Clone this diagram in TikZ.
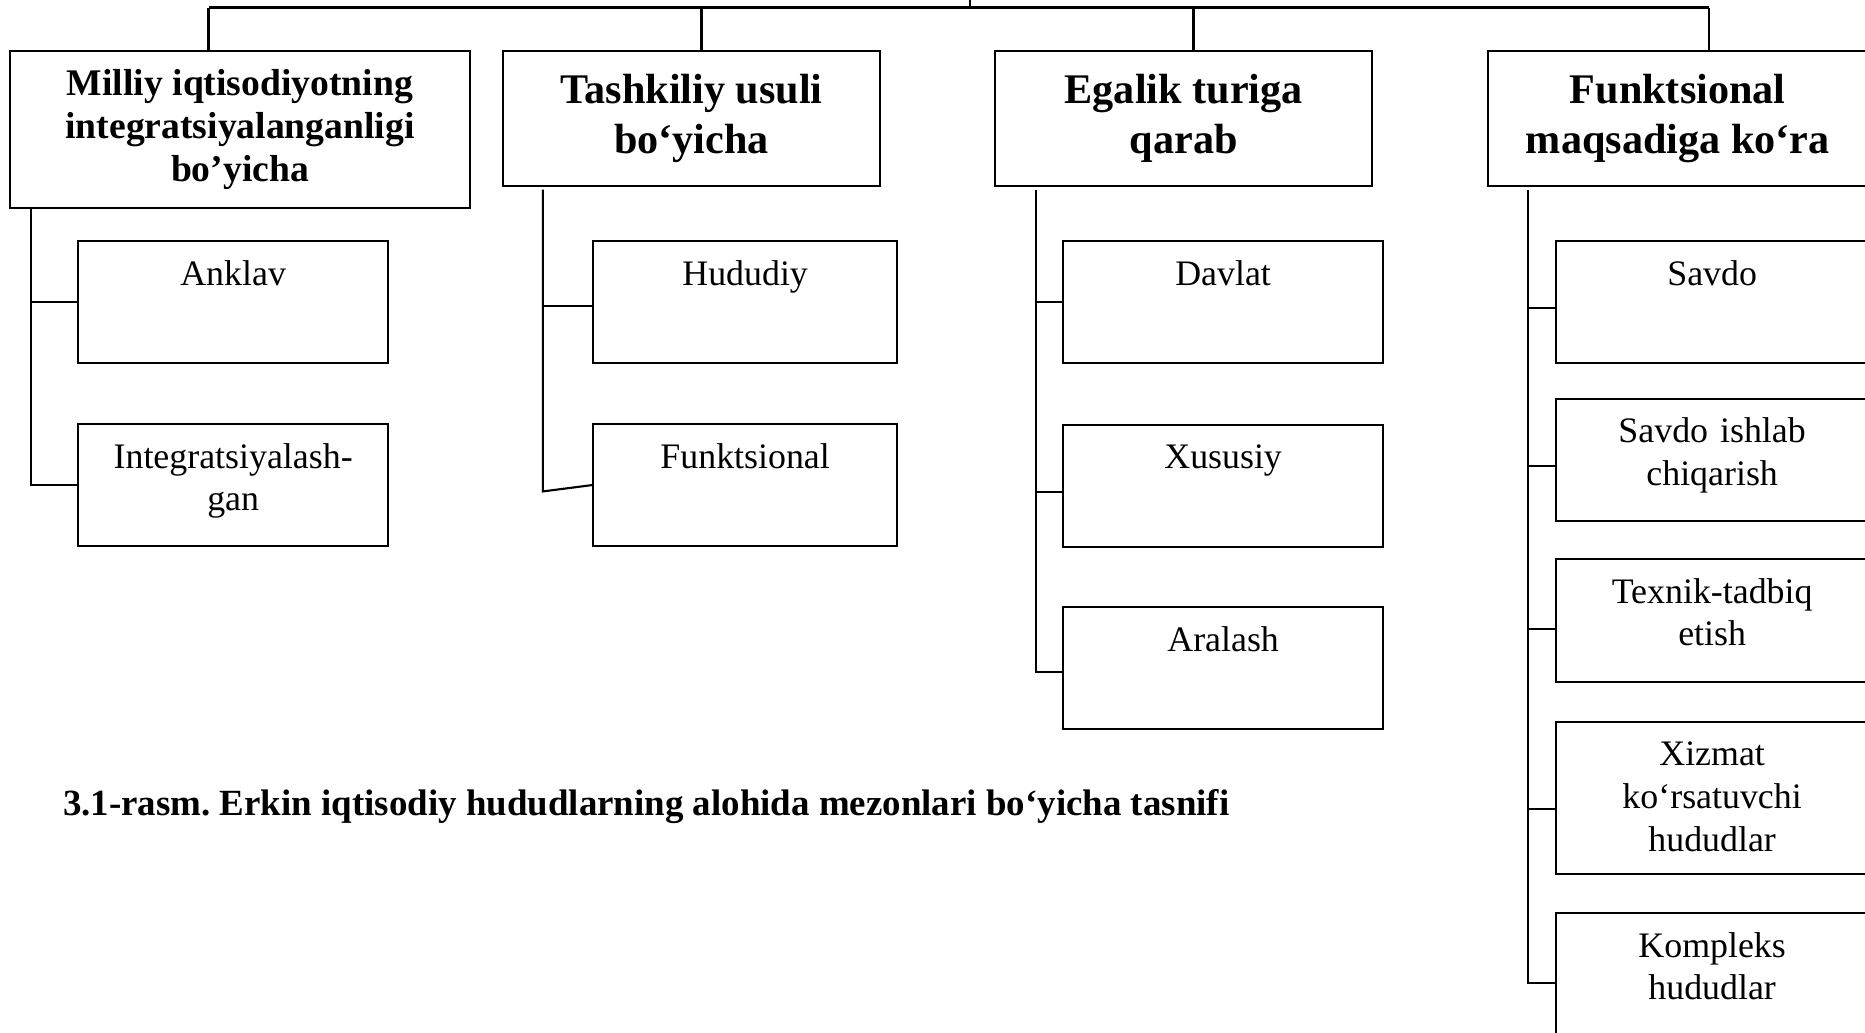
\documentclass[tikz,border=0pt]{standalone}
\usepackage{fontspec}
\setmainfont{Liberation Serif}
\frenchspacing
\begin{document}
\begin{tikzpicture}[x=0.01cm,y=-0.01cm,line width=0.6pt,
        head/.style={draw,align=center,inner sep=0pt,minimum height=1.347cm,
          font=\fontsize{12}{14.2}\selectfont\bfseries},
        leaf/.style={draw,inner sep=0pt,anchor=north west,minimum height=1.22cm},
        leaftext/.style={anchor=base,align=center,text width=3cm,inner sep=0pt,
          font=\fontsize{10.2}{12.2}\selectfont}]
        \useasboundingbox (0,0) rectangle (1865,1033);
        \clip (0,0) rectangle (1865,1033);

        \node[head,minimum width=4.6cm,minimum height=1.57cm,
          font=\fontsize{10.7}{12.3}\selectfont\bfseries] (milliy) at (240,129.5)
        {Milliy iqtisodiyotning\\integratsiyalanganligi\\bo’yicha};
        \node[head,minimum width=3.77cm] (tashkiliy) at (691.5,118.3) {Tashkiliy usuli\\bo‘yicha};
        \node[head,minimum width=3.77cm] (egalik) at (1183.7,118.3) {Egalik turiga\\qarab};
        \node[head,minimum width=3.8cm] (funksiya) at (1677.7,118.3) {Funktsional\\maqsadiga ko‘ra};

        \coordinate (root) at (970,0);
        \coordinate (t0) at (970,7.5);
        \coordinate (t1) at (208.5,7.5);
        \coordinate (t2) at (701.5,7.5);
        \coordinate (t3) at (1193.5,7.5);
        \coordinate (t4) at (1709,7.5);
        \draw (root) -- (t0);
        \draw (t1) -- (t4);
        \draw (t1) -- (t1 |- milliy.north);
        \draw (t2) -- (t2 |- tashkiliy.north);
        \draw (t3) -- (t3 |- egalik.north);
        \draw (t4) -- (t4 |- funksiya.north);

        \node[leaf,minimum width=3.1cm] (anklav) at (77,240) {};
        \node[leaf,minimum width=3.1cm] (integ) at (77,423) {};
        \node[leaftext] at ([yshift=-0.45cm]anklav.north) {Anklav};
        \node[leaftext] at ([yshift=-0.45cm]integ.north) {Integratsiyalash-\\gan};

        \node[leaf,minimum width=3.04cm] (hududiy) at (592,240) {};
        \node[leaf,minimum width=3.04cm] (funktsional) at (592,423) {};
        \node[leaftext] at ([yshift=-0.45cm]hududiy.north) {Hududiy};
        \node[leaftext] at ([yshift=-0.45cm]funktsional.north) {Funktsional};

        \node[leaf,minimum width=3.2cm] (davlat) at (1062,240) {};
        \node[leaf,minimum width=3.2cm] (xususiy) at (1062,423.6) {};
        \node[leaf,minimum width=3.2cm] (aralash) at (1062,606) {};
        \node[leaftext] at ([yshift=-0.45cm]davlat.north) {Davlat};
        \node[leaftext] at ([yshift=-0.45cm]xususiy.north) {Xususiy};
        \node[leaftext] at ([yshift=-0.45cm]aralash.north) {Aralash};

        \node[leaf,minimum width=3.12cm] (savdo) at (1555,240) {};
        \node[leaf,minimum width=3.12cm] (ishlab) at (1555,397.5) {};
        \node[leaf,minimum width=3.12cm,minimum height=1.23cm] (texnik) at (1555,558) {};
        \node[leaf,minimum width=3.12cm,minimum height=1.52cm] (xizmat) at (1555,720.7) {};
        \node[leaf,minimum width=3.12cm,minimum height=1.4cm] (kompleks) at (1555,912) {};
        \node[leaftext] at ([yshift=-0.45cm]savdo.north) {Savdo};
        \node[leaftext] at ([yshift=-0.45cm]ishlab.north) {Savdo ishlab\\chiqarish};
        \node[leaftext] at ([yshift=-0.45cm]texnik.north) {Texnik-tadbiq\\etish};
        \node[leaftext] at ([yshift=-0.45cm]xizmat.north) {Xizmat\\ko‘rsatuvchi\\hududlar};
        \node[leaftext] at ([yshift=-0.45cm]kompleks.north) {Kompleks\\hududlar};

        \path (milliy.south west) ++(22.4,0) coordinate (s1);
        \draw (s1) |- (integ.west);
        \draw (s1 |- anklav.west) -- (anklav.west);

        \path (tashkiliy.south west) ++(41,3) coordinate (s2);
        \draw (s2) -- ([yshift=-1.8pt]s2 |- funktsional.west) -- (funktsional.west);
        \draw ([yshift=-1.1pt]s2 |- hududiy.west) -- ([yshift=-1.1pt]hududiy.west);

        \path (egalik.south west) ++(41.6,3) coordinate (s3);
        \draw (s3) |- ([yshift=-1.1pt]aralash.west);
        \draw (s3 |- davlat.west) -- (davlat.west);
        \draw ([yshift=-1.8pt]s3 |- xususiy.west) -- ([yshift=-1.8pt]xususiy.west);

        \path (funksiya.south west) ++(41.3,3) coordinate (s4);
        \draw (s4) |- (kompleks.west);
        \draw ([yshift=-1.7pt]s4 |- savdo.west) -- ([yshift=-1.7pt]savdo.west);
        \draw ([yshift=-1.8pt]s4 |- ishlab.west) -- ([yshift=-1.8pt]ishlab.west);
        \draw ([yshift=-2.3pt]s4 |- texnik.west) -- ([yshift=-2.3pt]texnik.west);
        \draw ([yshift=-3.1pt]s4 |- xizmat.west) -- ([yshift=-3.1pt]xizmat.west);

        \node[anchor=base west,inner sep=0pt,font=\fontsize{10.5}{12.6}\selectfont\bfseries]
        (caption) at (62,815) {3.1-rasm. Erkin iqtisodiy hududlarning alohida mezonlari bo‘yicha tasnifi};
      \end{tikzpicture}
\end{document}
